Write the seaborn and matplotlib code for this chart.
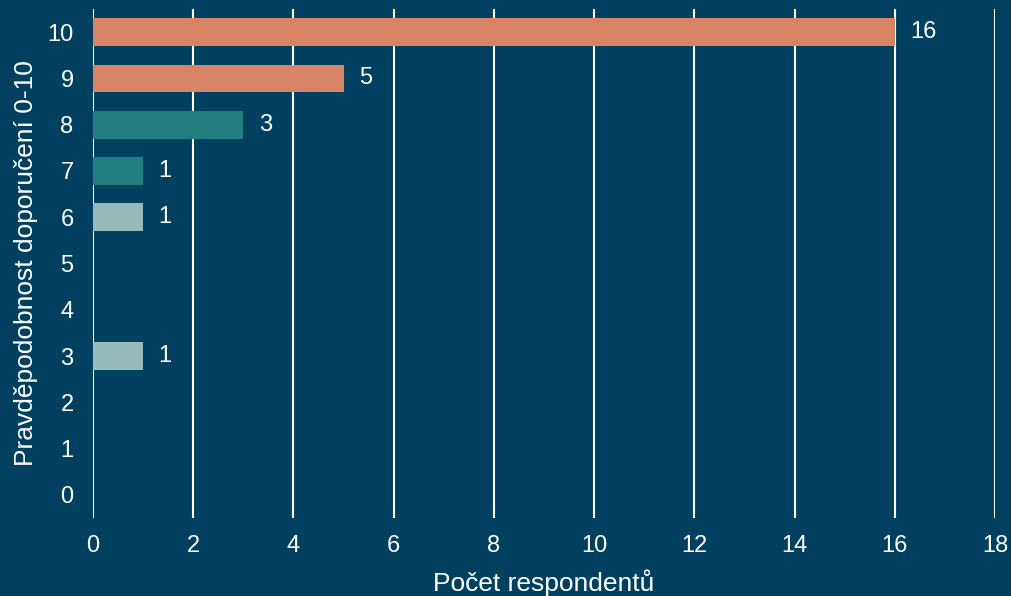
import seaborn as sns
import matplotlib.pyplot as plt
import pandas as pd

# Skore doporuceni (0-10) a pocet respondentu
scores = ['10', '9', '8', '7', '6', '5', '4', '3', '2', '1', '0']
counts = [16, 5, 3, 1, 1, 0, 0, 1, 0, 0, 0]

bg = '#01405e'
orange = '#d98466'
teal = '#227e80'
light = '#97bbbb'
bar_colors = {'10': orange, '9': orange, '8': teal, '7': teal}
palette = {s: bar_colors.get(s, light) for s in scores}

data = pd.DataFrame({'score': scores, 'count': counts})

sns.set_style('white')
plt.rcParams['font.family'] = ['Liberation Sans', 'DejaVu Sans']

fig = plt.figure(figsize=(10.11, 5.96), dpi=100, facecolor=bg)
ax = fig.add_axes([93 / 1011, 1 - 518 / 596, 902 / 1011, 509 / 596])
ax.set_facecolor(bg)

sns.barplot(data=data, x='count', y='score', hue='score', order=scores,
            palette=palette, legend=False, width=0.6, saturation=1,
            linewidth=0, ax=ax)

for cont in ax.containers:
    labels = [f'{v:g}' if v > 0 else '' for v in cont.datavalues]
    ax.bar_label(cont, labels=labels, padding=11, color='white', fontsize=17)

ax.set_xlim(0, 18)
ax.set_xticks(range(0, 19, 2))
ax.grid(axis='x', color='white', linewidth=1.5)
ax.set_axisbelow(True)
for s in ax.spines.values():
    s.set_visible(False)

ax.tick_params(axis='x', length=0, pad=12, labelsize=17, colors='white')
ax.tick_params(axis='y', length=0, pad=14, labelsize=17, colors='white')
ax.set_xlabel('Počet respondentů', color='white', fontsize=19, labelpad=9)
ax.set_ylabel('Pravděpodobnost doporučení 0-10', color='white', fontsize=19, labelpad=7)

fig.savefig('out.png', dpi=100, facecolor=bg)
